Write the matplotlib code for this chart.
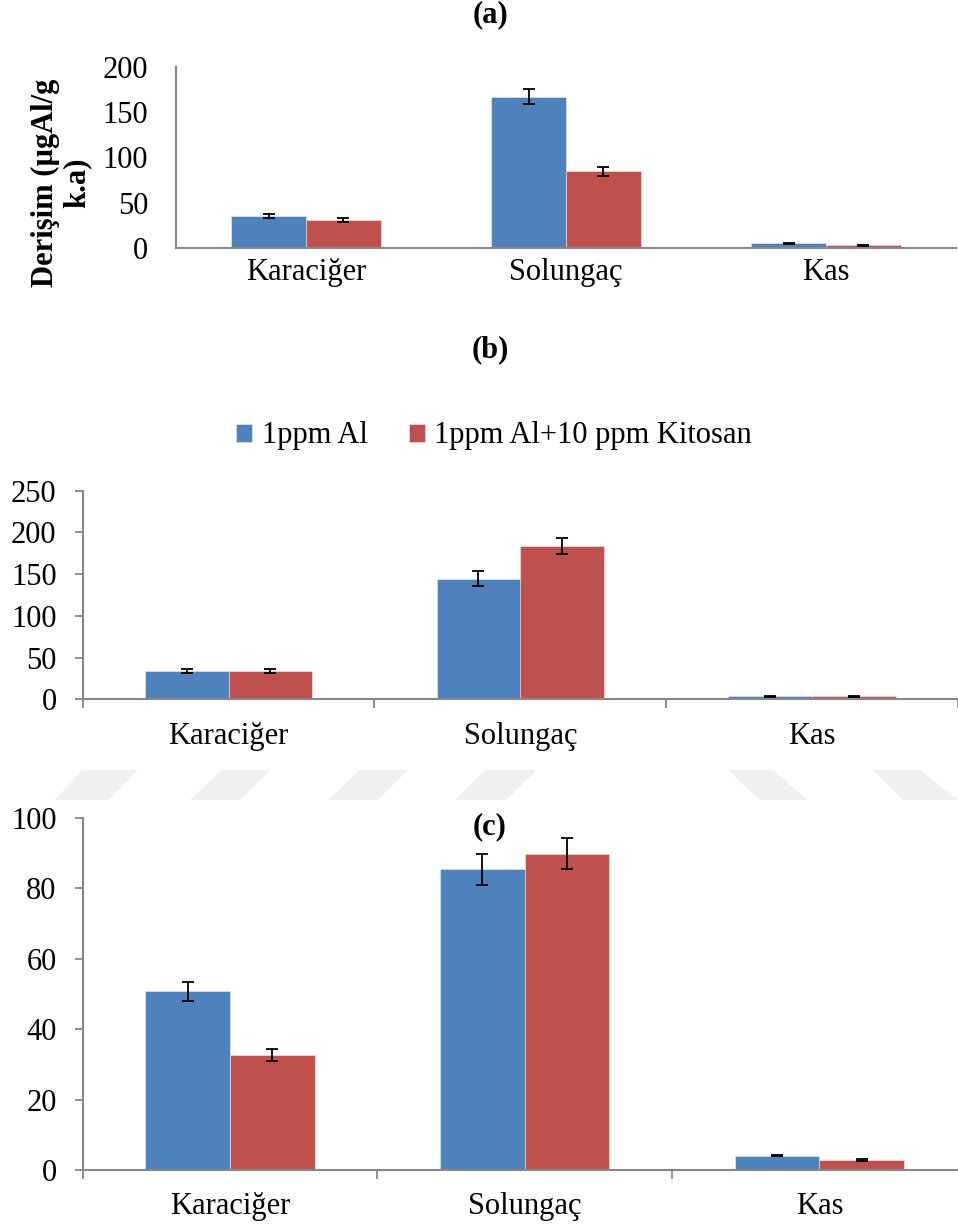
import matplotlib
matplotlib.use('Agg')
import matplotlib.pyplot as plt
import numpy as np
from matplotlib.patches import Polygon

# Kategoriler ve seriler
categories = ['Karaciğer', 'Solungaç', 'Kas']
series_names = ['1ppm Al', '1ppm Al+10 ppm Kitosan']

# (a)
a_al = [35.4, 167.2, 5.2]
a_al_err = [2.5, 8.6, 0.5]
a_kit = [30.6, 84.7, 3.0]
a_kit_err = [2.0, 4.8, 0.5]

# (b)
b_al = [33.6, 144.2, 3.6]
b_al_err = [2.2, 9.0, 0.4]
b_kit = [34.0, 183.4, 3.6]
b_kit_err = [2.2, 9.6, 0.4]

# (c)
c_al = [50.7, 85.3, 4.1]
c_al_err = [2.6, 4.3, 0.25]
c_kit = [32.6, 89.8, 2.8]
c_kit_err = [1.7, 4.5, 0.2]

W, H = 958, 1228
BLUE = '#4F81BD'
RED = '#C0504D'
GRAY = '#878787'
FONT = 'Liberation Serif'
FS = 22

plt.rcParams['font.family'] = [FONT, 'DejaVu Serif']

fig = plt.figure(figsize=(W / 100, H / 100), dpi=100)


def px_axes(left, top, right, bottom):
    return fig.add_axes([left / W, 1 - bottom / H, (right - left) / W, (bottom - top) / H])


def draw_panel(ax, al, al_err, kit, kit_err, ymax, ystep, ticks=True):
    x = np.arange(len(categories))
    w = 0.287
    ek = dict(elinewidth=1.3, capsize=4.3, capthick=1.3, ecolor='black')
    ax.bar(x - w / 2, al, w, yerr=al_err, color=BLUE, edgecolor=(1, 1, 1, 0.5),
           linewidth=0.6, error_kw=ek, label=series_names[0], zorder=2)
    ax.bar(x + w / 2, kit, w, yerr=kit_err, color=RED, edgecolor=(1, 1, 1, 0.5),
           linewidth=0.6, error_kw=ek, label=series_names[1], zorder=2)
    ax.set_xlim(-0.5, len(categories) - 0.5)
    ax.set_ylim(0, ymax)
    ax.set_yticks(np.arange(0, ymax + 1, ystep))
    ax.set_xticks(x)
    ax.set_xticklabels(categories)
    for s in ['top', 'right']:
        ax.spines[s].set_visible(False)
    for s in ['left', 'bottom']:
        ax.spines[s].set_color(GRAY)
        ax.spines[s].set_linewidth(1.5)
        ax.spines[s].set_zorder(3)
    ax.tick_params(axis='both', labelsize=FS, colors='black')
    if ticks:
        ax.tick_params(axis='y', direction='out', length=5.8, width=1.3, color=GRAY, pad=13)
        ax.tick_params(axis='x', which='major', length=0, pad=16)
        ax.set_xticks(np.arange(-0.5, len(categories)), minor=True)
        ax.tick_params(axis='x', which='minor', direction='out', length=6.5, width=1.3, color=GRAY)
    else:
        ax.tick_params(axis='y', length=0, pad=20)
        ax.tick_params(axis='x', length=0, pad=7)


# (a) paneli
ax_a = px_axes(176, 67, 956, 248)
draw_panel(ax_a, a_al, a_al_err, a_kit, a_kit_err, 200, 50, ticks=False)
fig.text(490 / W, 1 - 15 / H, '(a)', ha='center', va='center', fontsize=FS, fontweight='bold')
fig.text(61 / W, 1 - 183 / H, 'Derişim (µgAl/g\nk.a)', ha='center', va='center',
         rotation=90, fontsize=FS, fontweight='bold', multialignment='center', linespacing=1.1)

# (b) paneli
ax_b = px_axes(82.7, 490.7, 958, 699.3)
draw_panel(ax_b, b_al, b_al_err, b_kit, b_kit_err, 250, 50)
fig.text(490 / W, 1 - 350 / H, '(b)', ha='center', va='center', fontsize=FS, fontweight='bold')
handles, labels = ax_b.get_legend_handles_labels()
fig.legend(handles, labels, loc='center', bbox_to_anchor=(494 / W, 1 - 436 / H), ncol=2,
           frameon=False, fontsize=FS, handlelength=0.53, handleheight=0.53,
           handletextpad=0.3, columnspacing=1.35)

# (c) paneli
ax_c = px_axes(82.7, 817.7, 966.8, 1170)
draw_panel(ax_c, c_al, c_al_err, c_kit, c_kit_err, 100, 20)
fig.text(490 / W, 1 - 827 / H, '(c)', ha='center', va='center', fontsize=FS, fontweight='bold')

# arka plandaki soluk filigran
shapes = [
    [(82, 770), (138, 770), (108, 800), (55, 800)],
    [(222, 770), (270, 770), (240, 800), (190, 800)],
    [(360, 770), (408, 770), (378, 800), (328, 800)],
    [(485, 770), (537, 770), (507, 800), (455, 800)],
    [(728, 770), (773, 770), (807, 800), (760, 800)],
    [(873, 770), (920, 770), (958, 800), (903, 800)],
]
for pts in shapes:
    fig.patches.append(Polygon([(px / W, 1 - py / H) for px, py in pts], closed=True,
                               transform=fig.transFigure, facecolor='#f0f0f0',
                               edgecolor='none', zorder=0))

fig.savefig('out.png', dpi=100)
